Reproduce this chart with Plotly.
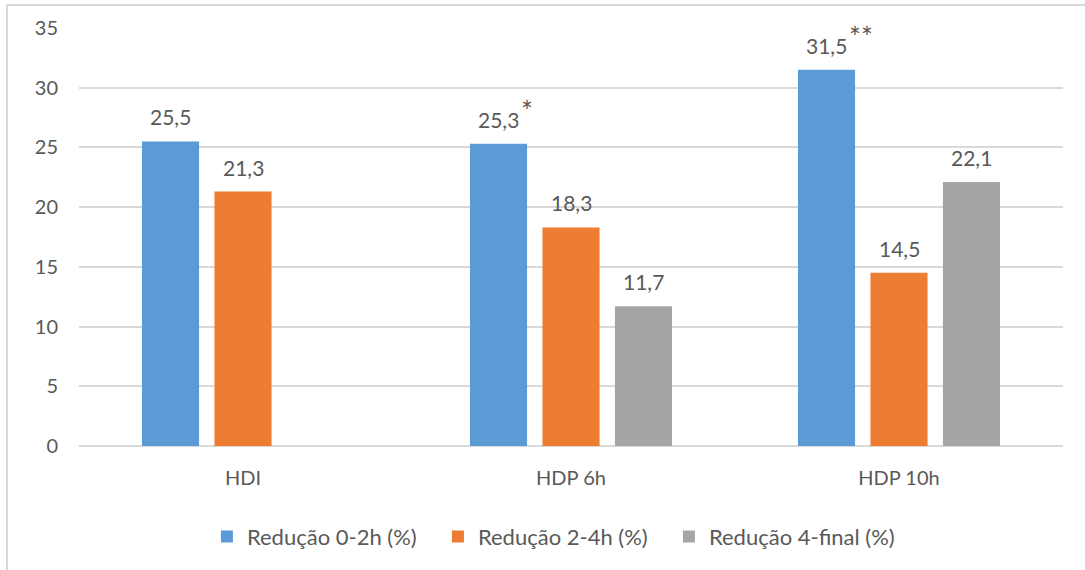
import plotly.graph_objects as go

categories = ["HDI", "HDP 6h", "HDP 10h"]
series_names = ["Redução 0-2h (%)", "Redução 2-4h (%)", "Redução 4-final (%)"]
red_0_2 = [25.5, 25.3, 31.5]
red_2_4 = [21.3, 18.3, 14.5]
red_4_final = [None, 11.7, 22.1]
significance = [["", "*", "**"], ["", "", ""], ["", "", ""]]

colors = ["#5B9BD5", "#ED7D31", "#A5A5A5"]
offsets = [-0.221, 0.0, 0.221]
bar_w = 0.174
font_family = "Lato, 'Open Sans', Arial, sans-serif"
text_col = "#595959"

fig = go.Figure()
xpos = list(range(len(categories)))
annotations = []
for s, (name, vals, col, off) in enumerate(zip(series_names, [red_0_2, red_2_4, red_4_final], colors, offsets)):
    fig.add_trace(go.Bar(
        x=[x + off for x in xpos], y=vals, name=name, width=bar_w,
        marker=dict(color=col, line=dict(width=0)),
    ))
    for i, v in enumerate(vals):
        if v is None:
            continue
        label = f"{v:.1f}".replace(".", ",")
        annotations.append(dict(
            x=i + off, y=v, xref="x", yref="y", text=label, showarrow=False,
            xanchor="center", yanchor="bottom", yshift=10,
            font=dict(size=21, color=text_col, family=font_family),
        ))
        if significance[s][i]:
            annotations.append(dict(
                x=i + off, y=v, xref="x", yref="y", text=significance[s][i], showarrow=False,
                xanchor="left", yanchor="bottom", xshift=20, yshift=14,
                font=dict(size=28, color=text_col, family=font_family),
            ))

fig.update_layout(
    width=1085, height=570,
    margin=dict(l=79, r=22, t=28, b=124, autoexpand=False),
    paper_bgcolor="white", plot_bgcolor="white",
    font=dict(family=font_family, color=text_col, size=20),
    barmode="overlay",
    showlegend=True,
    legend=dict(orientation="h", x=0.13, xanchor="left", y=-0.167, yanchor="top",
                font=dict(size=22, color=text_col), itemwidth=30, traceorder="normal",
                itemsizing="constant", entrywidth=186, entrywidthmode="pixels"),
    annotations=annotations,
    shapes=[
        dict(type="line", xref="paper", yref="paper", x0=-0.0732, x1=-0.0732, y0=1.055, y1=-0.5,
             line=dict(color="#D9D9D9", width=2)),
        dict(type="line", xref="paper", yref="paper", x0=-0.0732, x1=1.1, y0=1.055, y1=1.055,
             line=dict(color="#D9D9D9", width=2)),
    ],
)
fig.update_xaxes(
    range=[-0.5, 2.5], tickmode="array", tickvals=xpos, ticktext=categories,
    showgrid=False, zeroline=False, showline=False, ticks="",
    tickfont=dict(size=20, color=text_col), ticklabelstandoff=18,
)
fig.update_yaxes(
    range=[0, 35], dtick=5, showgrid=True, gridcolor="#D9D9D9", gridwidth=1.5,
    zeroline=True, zerolinecolor="#D9D9D9", zerolinewidth=1.5, showline=False, ticks="",
    tickfont=dict(size=20, color=text_col), ticklabelstandoff=20,
)

fig.write_html("out.html")
